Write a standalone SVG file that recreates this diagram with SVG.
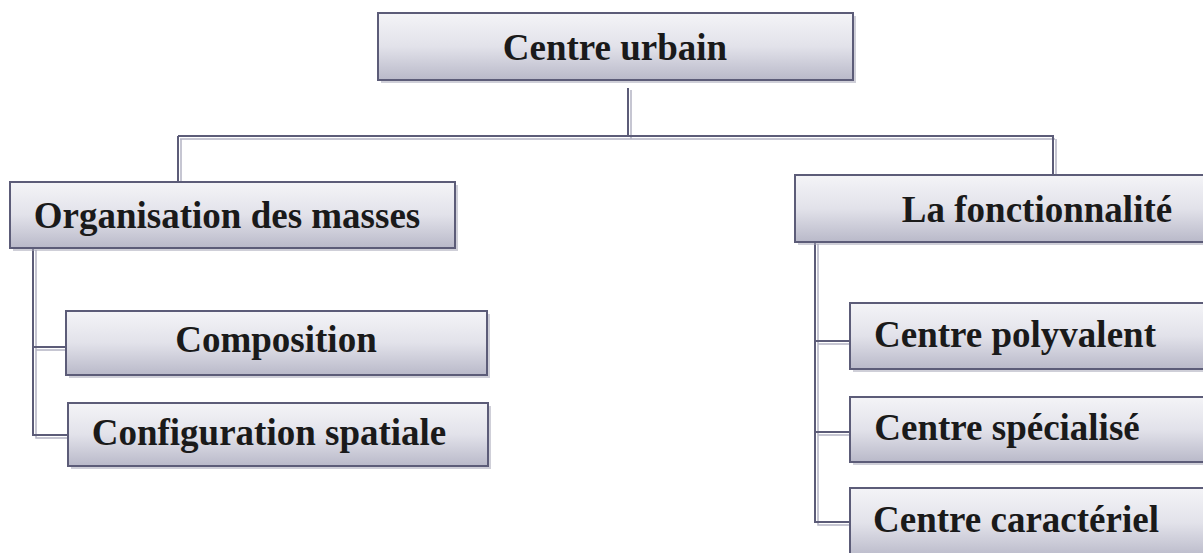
<svg xmlns="http://www.w3.org/2000/svg" width="1203" height="553" viewBox="0 0 1203 553">
<defs>
<linearGradient id="g" x1="0" y1="0" x2="0" y2="1">
<stop offset="0" stop-color="#f4f4f7"/>
<stop offset="0.5" stop-color="#e2e2ea"/>
<stop offset="1" stop-color="#b9b9c9"/>
</linearGradient>
<style>
.box{fill:url(#g);stroke:#5c5c78;stroke-width:2}
.sh{fill:#a8a8b8;opacity:0.55}
.t{font-family:"Liberation Serif","Times New Roman",serif;font-weight:bold;font-size:37px;fill:#1a1a1a;text-anchor:middle}
.ln{fill:none;stroke:#5c5c78;stroke-width:2}
.ls{fill:none;stroke:#b4b4c4;stroke-width:1.5}
</style>
</defs>
<rect width="1203" height="553" fill="#ffffff"/>
<g id="connectors">
<path class="ls" d="M631 90 V139 M180 139 H1055 M181 139 V182 M1056 139 V176"/>
<path class="ln" d="M628 88 V135 M178 136 H1053 M178 136 V182 M1053 135 V175"/>
<path class="ls" d="M36 250 V438 H68 M36 350 H66"/>
<path class="ln" d="M33 248 V435 H68 M33 347 H66"/>
<path class="ls" d="M818 244 V525 H850 M818 344 H850 M818 435 H850"/>
<path class="ln" d="M815 242 V522 H850 M815 341 H850 M815 432 H850"/>
</g>
<g id="n-centre-urbain">
<rect class="sh" x="381" y="16" width="475" height="67"/>
<rect class="box" x="378" y="13" width="475" height="67"/>
<text class="t" x="615" y="60">Centre urbain</text>
</g>
<g id="n-organisation">
<rect class="sh" x="13" y="185" width="445" height="66"/>
<rect class="box" x="10" y="182" width="445" height="66"/>
<text class="t" x="227" y="228">Organisation des masses</text>
</g>
<g id="n-composition">
<rect class="sh" x="69" y="314" width="421" height="64"/>
<rect class="box" x="66" y="311" width="421" height="64"/>
<text class="t" x="276" y="352">Composition</text>
</g>
<g id="n-configuration">
<rect class="sh" x="71" y="406" width="420" height="63"/>
<rect class="box" x="68" y="403" width="420" height="63"/>
<text class="t" x="269" y="445">Configuration spatiale</text>
</g>
<g id="n-fonctionnalite">
<rect class="sh" x="798" y="178" width="420" height="67"/>
<rect class="box" x="795" y="175" width="420" height="67"/>
<text class="t" x="1037" y="222">La fonctionnalité</text>
</g>
<g id="n-polyvalent">
<rect class="sh" x="853" y="306" width="360" height="66"/>
<rect class="box" x="850" y="303" width="360" height="66"/>
<text class="t" x="1015" y="347">Centre polyvalent</text>
</g>
<g id="n-specialise">
<rect class="sh" x="853" y="400" width="360" height="65"/>
<rect class="box" x="850" y="397" width="360" height="65"/>
<text class="t" x="1007" y="440">Centre spécialisé</text>
</g>
<g id="n-caracteriel">
<rect class="sh" x="853" y="491" width="360" height="70"/>
<rect class="box" x="850" y="488" width="360" height="70"/>
<text class="t" x="1016" y="532">Centre caractériel</text>
</g>
</svg>
